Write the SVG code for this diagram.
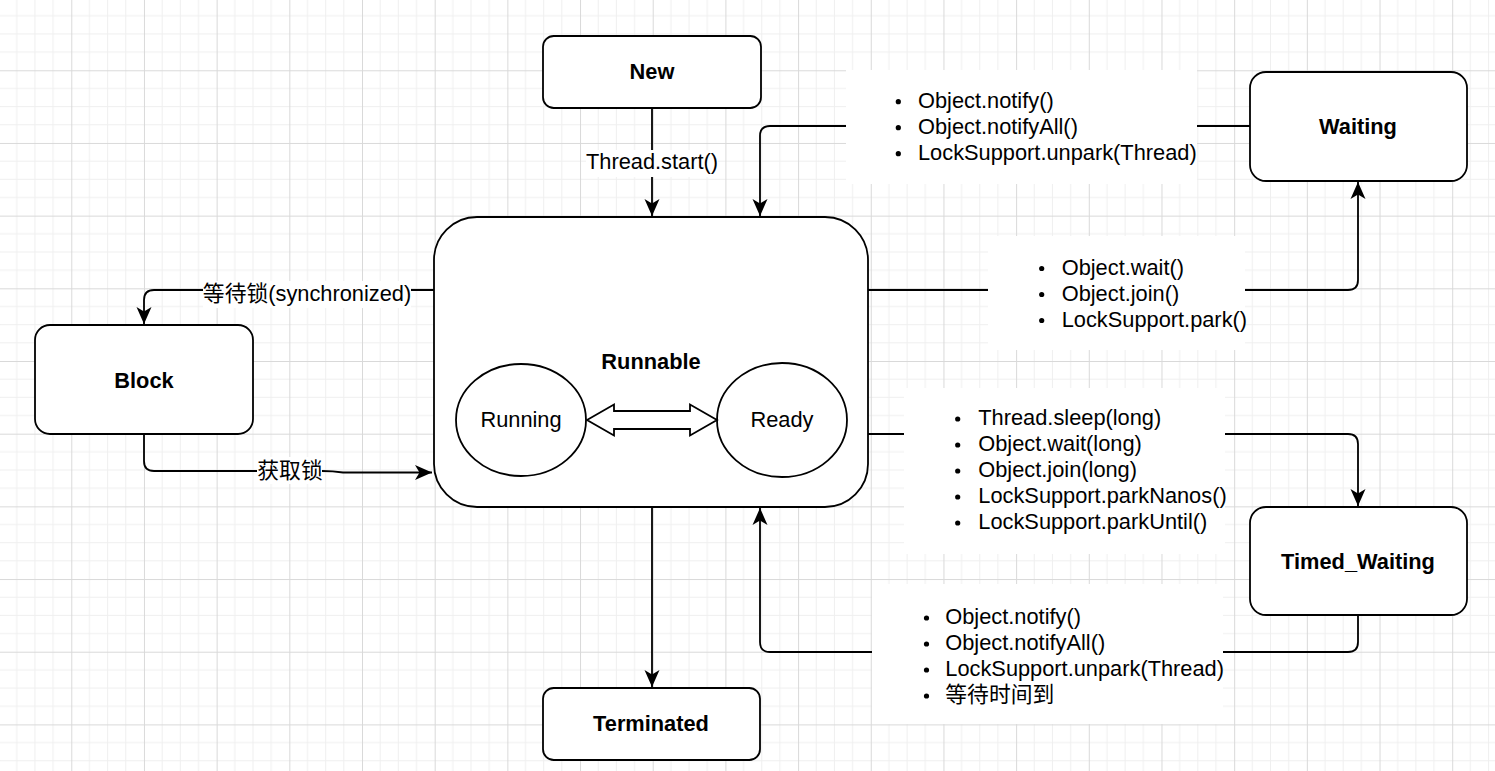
<svg xmlns="http://www.w3.org/2000/svg" width="1495" height="771" viewBox="0 0 1495 771">
<style>
.node{fill:#fff;stroke:#000;stroke-width:1.8}
.lbl{font-family:"Liberation Sans","Noto Sans CJK SC",sans-serif;font-size:21.8px;fill:#000}
.b{font-weight:bold}
.m{text-anchor:middle}
.edge{fill:none;stroke:#000;stroke-width:1.8}
.bg{fill:#fff;stroke:none}
.dot{fill:#000}
</style>
<defs>
<pattern id="grid" patternUnits="userSpaceOnUse" x="-1.4" y="-2.4" width="72.68" height="72.68">
<path d="M18.17,0V72.68M36.34,0V72.68M54.51,0V72.68M0,18.17H72.68M0,36.34H72.68M0,54.51H72.68" stroke="#efefef" stroke-width="1" fill="none"/>
<path d="M0.5,0V72.68M0,0.5H72.68" stroke="#d9d9d9" stroke-width="1" fill="none"/>
</pattern>
<marker id="arr" markerUnits="userSpaceOnUse" markerWidth="20" markerHeight="20" viewBox="0 -10 20 20" refX="17" refY="0" orient="auto">
<path d="M0,-7.5L17,0L0,7.5L4.5,0Z" fill="#000"/>
</marker>
</defs>
<rect width="1495" height="771" fill="#fff"/>
<rect width="1495" height="771" fill="url(#grid)"/>

<g id="connectors">
<path class="edge" d="M652,108V216" marker-end="url(#arr)"/>
<path class="edge" d="M1250,126H770Q760,126 760,136V216" marker-end="url(#arr)"/>
<path class="edge" d="M868,290H1348Q1358,290 1358,280V182" marker-end="url(#arr)"/>
<path class="edge" d="M868,434H1348Q1358,434 1358,444V506" marker-end="url(#arr)"/>
<path class="edge" d="M1358,615V642Q1358,652 1348,652H770Q760,652 760,642V508" marker-end="url(#arr)"/>
<path class="edge" d="M434,290H154Q144,290 144,300V324" marker-end="url(#arr)"/>
<path class="edge" d="M144,434V461Q144,471 154,471H322Q333,471 343,472.5H432" marker-end="url(#arr)"/>
<path class="edge" d="M652,507V687" marker-end="url(#arr)"/>

<g id="label-start">
<rect class="bg" x="586" y="150" width="132" height="27"/>
<text class="lbl m" x="652" y="169">Thread.start()</text>
</g>
<g id="label-notify1">
<rect class="bg" x="846" y="70" width="351" height="114"/>
<circle class="dot" cx="898.3" cy="101.7" r="2.6"/>
<circle class="dot" cx="898.3" cy="127.7" r="2.6"/>
<circle class="dot" cx="898.3" cy="153.7" r="2.6"/>
<text class="lbl" x="918" y="107.7">Object.notify()</text>
<text class="lbl" x="918" y="133.7">Object.notifyAll()</text>
<text class="lbl" x="918" y="159.7">LockSupport.unpark(Thread)</text>
</g>
<g id="label-wait">
<rect class="bg" x="988" y="236" width="257" height="114"/>
<circle class="dot" cx="1041.7" cy="268.5" r="2.6"/>
<circle class="dot" cx="1041.7" cy="294.5" r="2.6"/>
<circle class="dot" cx="1041.7" cy="320.5" r="2.6"/>
<text class="lbl" x="1061.7" y="274.5">Object.wait()</text>
<text class="lbl" x="1061.7" y="300.5">Object.join()</text>
<text class="lbl" x="1061.7" y="326.5">LockSupport.park()</text>
</g>
<g id="label-timed">
<rect class="bg" x="904" y="388" width="321" height="166"/>
<circle class="dot" cx="957.7" cy="419" r="2.6"/>
<circle class="dot" cx="957.7" cy="445" r="2.6"/>
<circle class="dot" cx="957.7" cy="471" r="2.6"/>
<circle class="dot" cx="957.7" cy="497" r="2.6"/>
<circle class="dot" cx="957.7" cy="523" r="2.6"/>
<text class="lbl" x="978.3" y="425">Thread.sleep(long)</text>
<text class="lbl" x="978.3" y="451">Object.wait(long)</text>
<text class="lbl" x="978.3" y="477">Object.join(long)</text>
<text class="lbl" x="978.3" y="503">LockSupport.parkNanos()</text>
<text class="lbl" x="978.3" y="529">LockSupport.parkUntil()</text>
</g>
<g id="label-notify2">
<rect class="bg" x="872" y="584" width="351" height="140"/>
<circle class="dot" cx="926.5" cy="618" r="2.6"/>
<circle class="dot" cx="926.5" cy="644" r="2.6"/>
<circle class="dot" cx="926.5" cy="670" r="2.6"/>
<circle class="dot" cx="926.5" cy="696" r="2.6"/>
<text class="lbl" x="945.3" y="624">Object.notify()</text>
<text class="lbl" x="945.3" y="650">Object.notifyAll()</text>
<text class="lbl" x="945.3" y="676">LockSupport.unpark(Thread)</text>
<text class="lbl" x="945.3" y="702">等待时间到</text>
</g>
<g id="label-sync">
<rect class="bg" x="203" y="281" width="208" height="27"/>
<text class="lbl m" x="307" y="301">等待锁(synchronized)</text>
</g>
<g id="label-acquire">
<rect class="bg" x="257" y="457" width="65" height="27"/>
<text class="lbl m" x="290" y="478">获取锁</text>
</g>
</g>

<g id="node-new">
<rect class="node" x="543" y="36" width="218" height="72" rx="10.8"/>
<text class="lbl b m" x="652" y="78.5">New</text>
</g>
<g id="node-waiting">
<rect class="node" x="1250" y="72" width="217" height="109" rx="16"/>
<text class="lbl b m" x="1358" y="134">Waiting</text>
</g>
<g id="node-block">
<rect class="node" x="35" y="325" width="218" height="109" rx="15"/>
<text class="lbl b m" x="144" y="388">Block</text>
</g>
<g id="node-runnable">
<rect class="node" x="434" y="217" width="434" height="290" rx="43"/>
<text class="lbl b m" x="651" y="369">Runnable</text>
</g>
<g id="node-running">
<ellipse class="node" cx="521" cy="420" rx="65" ry="56"/>
<text class="lbl m" x="521" y="427">Running</text>
</g>
<g id="node-ready">
<ellipse class="node" cx="782" cy="420" rx="65" ry="57"/>
<text class="lbl m" x="782" y="427">Ready</text>
</g>
<g id="running-ready-arrow">
<polygon class="node" points="587,420 614,404.5 614,411 690,411 690,404.5 717,420 690,435.5 690,429 614,429 614,435.5"/>
</g>
<g id="node-timed">
<rect class="node" x="1250" y="507" width="217" height="108" rx="16"/>
<text class="lbl b m" x="1358" y="569">Timed_Waiting</text>
</g>
<g id="node-terminated">
<rect class="node" x="543" y="688" width="217" height="72" rx="10.8"/>
<text class="lbl b m" x="651" y="731">Terminated</text>
</g>
</svg>
